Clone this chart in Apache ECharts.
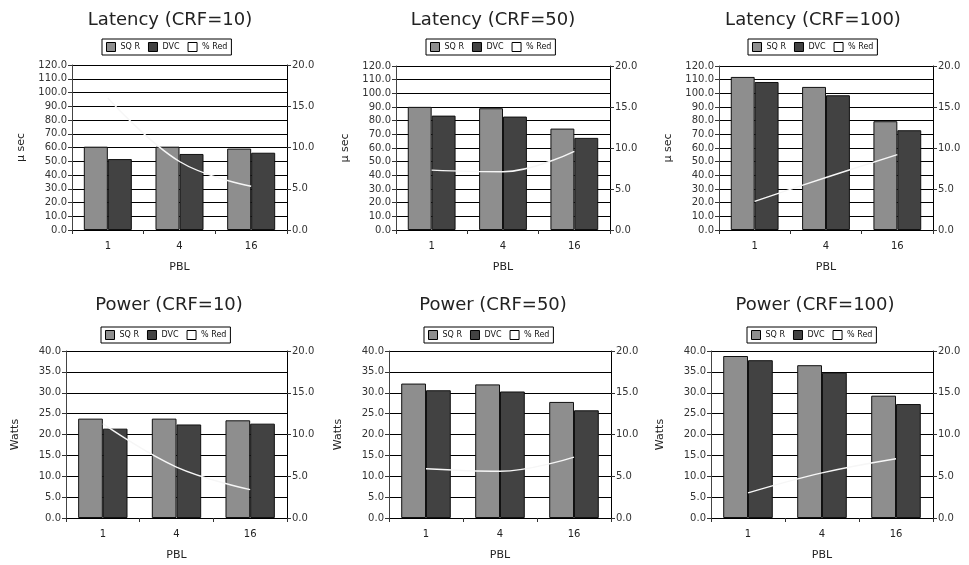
<!DOCTYPE html>
<html>
<head>
<meta charset="utf-8">
<script src="https://cdn.jsdelivr.net/npm/echarts@6/dist/echarts.min.js"></script>
<style>html,body{margin:0;padding:0;background:#fff}#c{width:969px;height:565px}</style>
</head>
<body>
<div id="c"></div>
<script>
const categories = ['1', '4', '16'];
const seriesNames = ['SQ R', 'DVC', '% Red'];

const latSQR10 = [60.6, 60.6, 59.2];
const latDVC10 = [51.6, 55.3, 56.2];
const latRed10 = [16.0, 8.3, 5.3];

const latSQR50 = [90.1, 89.1, 74.2];
const latDVC50 = [83.7, 83.0, 67.4];
const latRed50 = [7.3, 7.1, 9.6];

const latSQR100 = [112.0, 104.7, 79.6];
const latDVC100 = [108.3, 98.6, 73.0];
const latRed100 = [3.5, 6.4, 9.2];

const powSQR10 = [23.8, 23.8, 23.4];
const powDVC10 = [21.4, 22.4, 22.6];
const powRed10 = [11.3, 6.1, 3.4];

const powSQR50 = [32.2, 32.0, 27.8];
const powDVC50 = [30.6, 30.3, 25.8];
const powRed50 = [5.9, 5.6, 7.3];

const powSQR100 = [38.8, 36.6, 29.3];
const powDVC100 = [37.8, 34.8, 27.3];
const powRed100 = [3.0, 5.4, 7.1];

const panels = [
  {title: 'Latency (CRF=10)', yName: 'µ sec', max: 120, interval: 10, sqr: latSQR10, dvc: latDVC10, red: latRed10},
  {title: 'Latency (CRF=50)', yName: 'µ sec', max: 120, interval: 10, sqr: latSQR50, dvc: latDVC50, red: latRed50},
  {title: 'Latency (CRF=100)', yName: 'µ sec', max: 120, interval: 10, sqr: latSQR100, dvc: latDVC100, red: latRed100},
  {title: 'Power (CRF=10)', yName: 'Watts', max: 40, interval: 5, sqr: powSQR10, dvc: powDVC10, red: powRed10},
  {title: 'Power (CRF=50)', yName: 'Watts', max: 40, interval: 5, sqr: powSQR50, dvc: powDVC50, red: powRed50},
  {title: 'Power (CRF=100)', yName: 'Watts', max: 40, interval: 5, sqr: powSQR100, dvc: powDVC100, red: powRed100}
];

// layout (pixels)
const gridBoxes = [
  {left: 72, top: 65, width: 215, height: 165},
  {left: 396, top: 66, width: 214, height: 164},
  {left: 719, top: 66, width: 214, height: 164},
  {left: 66, top: 351, width: 221, height: 167},
  {left: 389, top: 351, width: 222, height: 167},
  {left: 711, top: 351, width: 222, height: 167}
];
const titleCenters = [{x: 165, y: 6}, {x: 488, y: 6}, {x: 808, y: 6}, {x: 164, y: 291}, {x: 488, y: 291}, {x: 810, y: 291}];
const legendPos = [{x: 102, y: 39}, {x: 426, y: 39}, {x: 748, y: 39}, {x: 101, y: 327}, {x: 424, y: 327}, {x: 747, y: 327}];

const FONT = 'DejaVu Sans';
const fmt = v => v.toFixed(1);

const option = {
  backgroundColor: '#fff',
  animation: false,
  textStyle: {fontFamily: FONT},
  title: [], legend: [], grid: [], xAxis: [], yAxis: [], series: []
};

panels.forEach((p, i) => {
  const g = gridBoxes[i];
  option.grid.push({left: g.left, top: g.top, width: g.width, height: g.height, containLabel: false});
  option.title.push({
    text: p.title, left: titleCenters[i].x, top: titleCenters[i].y, textAlign: 'center',
    textStyle: {fontFamily: FONT, fontSize: 18, fontWeight: 'normal', color: '#222'}
  });
  option.legend.push({
    left: legendPos[i].x, top: legendPos[i].y,
    orient: 'horizontal',
    borderColor: '#000', borderWidth: 1, padding: [3, 4], itemGap: 8,
    itemWidth: 9, itemHeight: 9,
    textStyle: {fontFamily: FONT, fontSize: 8, color: '#111'},
    data: [
      {name: seriesNames[0], icon: 'rect', itemStyle: {color: '#8e8e8e', borderColor: '#000', borderWidth: 1}},
      {name: seriesNames[1], icon: 'rect', itemStyle: {color: '#424242', borderColor: '#000', borderWidth: 1}},
      {name: seriesNames[2], icon: 'rect', itemStyle: {color: '#fff', borderColor: '#000', borderWidth: 1}}
    ],
    selectedMode: false
  });
  option.xAxis.push({
    type: 'category', gridIndex: i, data: categories, boundaryGap: true,
    name: 'PBL', nameLocation: 'middle', nameGap: 32,
    nameTextStyle: {fontFamily: FONT, fontSize: 11, color: '#222'},
    axisLine: {show: true, lineStyle: {color: '#000', width: 1}},
    axisTick: {show: true, length: 4, lineStyle: {color: '#333'}},
    axisLabel: {fontFamily: FONT, fontSize: 10, color: '#222', margin: 11},
    splitLine: {show: false}
  });
  option.yAxis.push({
    type: 'value', gridIndex: i, min: 0, max: p.max, interval: p.interval, position: 'left',
    name: p.yName, nameLocation: 'middle', nameGap: 45, nameRotate: 90,
    nameTextStyle: {fontFamily: FONT, fontSize: 11, color: '#222'},
    axisLine: {show: true, lineStyle: {color: '#444', width: 1}},
    axisTick: {show: true, length: 4, lineStyle: {color: '#333'}},
    axisLabel: {fontFamily: FONT, fontSize: 10, color: '#333', margin: 5, formatter: fmt},
    splitLine: {show: true, lineStyle: {color: '#000', width: 1}}
  });
  option.yAxis.push({
    type: 'value', gridIndex: i, min: 0, max: 20, interval: 5, position: 'right',
    axisLine: {show: true, lineStyle: {color: '#000', width: 1}},
    axisTick: {show: true, length: 4, lineStyle: {color: '#333'}},
    axisLabel: {fontFamily: FONT, fontSize: 10, color: '#333', margin: 5, formatter: fmt},
    splitLine: {show: false}
  });
  option.series.push({
    name: seriesNames[0], type: 'bar', xAxisIndex: i, yAxisIndex: 2 * i, data: p.sqr,
    barGap: '0%', barCategoryGap: '33%',
    itemStyle: {color: '#8e8e8e', borderColor: '#111', borderWidth: 1}
  });
  option.series.push({
    name: seriesNames[1], type: 'bar', xAxisIndex: i, yAxisIndex: 2 * i, data: p.dvc,
    barGap: '0%', barCategoryGap: '33%',
    itemStyle: {color: '#424242', borderColor: '#111', borderWidth: 1}
  });
  option.series.push({
    name: seriesNames[2], type: 'line', xAxisIndex: i, yAxisIndex: 2 * i + 1, data: p.red,
    smooth: 0.4, showSymbol: false, symbol: 'none', z: 5,
    lineStyle: {color: '#f6f6f6', width: 1.4},
    itemStyle: {color: '#fff'}
  });
});

const chart = echarts.init(document.getElementById('c'), null, {renderer: 'canvas'});
chart.setOption(option);
</script>
</body>
</html>
